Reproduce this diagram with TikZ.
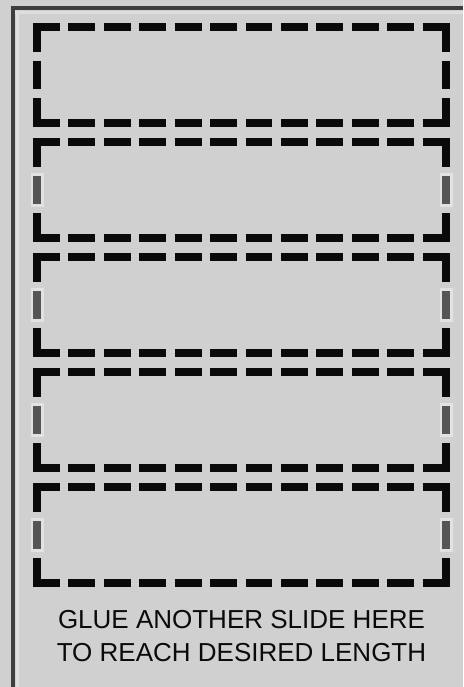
\documentclass[tikz,border=0pt]{standalone}
\usepackage{fontspec}
\setmainfont{Liberation Sans}
\usepackage{tikz}
\usetikzlibrary{positioning, calc}
\definecolor{slidebg}{HTML}{D0D0D0}
\definecolor{frameline}{HTML}{3E3E3E}
\definecolor{framelight}{HTML}{DEDEDE}
\definecolor{dashline}{HTML}{0A0A0A}
\definecolor{tabfill}{HTML}{555555}
\definecolor{tabhalo}{HTML}{E2E2E2}
\tikzset{
  slide/.style   = {rectangle, minimum width=409pt, minimum height=96pt,
                    inner sep=0pt, outer sep=0pt},
  hdash/.style   = {draw=dashline, line width=8.5pt, dash pattern=on 26.96pt off 8.5pt},
  vdash/.style   = {draw=dashline, line width=8.5pt, dash pattern=on 28.83pt off 9pt},
  tabmark/.style = {draw=tabfill, line width=8pt},
  tabglow/.style = {draw=tabhalo, line width=13pt},
  edge/.style    = {draw=frameline, line width=4pt},
  caption/.style = {font=\fontsize{26}{33}\selectfont, text=dashline, inner sep=0pt},
}
\begin{document}
\begin{tikzpicture}[x=1pt, y=-1pt]
  \useasboundingbox (0,0) rectangle (463,687);
  \fill[slidebg] (0,0) rectangle (463,687);
  % outer frame
  \draw[framelight, line width=3pt] (17,12) -- (17,687);
  \draw[framelight, line width=3pt] (15,12.5) -- (463,12.5);
  \draw[edge] (12.5,687) -- (12.5,8.5) -- (463,8.5);
  % the five slide frames
  \foreach \i in {0,...,4}{
    \node[slide] (s\i) at (241.5,{75+\i*115}) {};
    \draw[hdash] ([xshift=-4.25pt]s\i.north west) -- ([xshift=4.25pt]s\i.north east);
    \draw[hdash] ([xshift=-4.25pt]s\i.south west) -- ([xshift=4.25pt]s\i.south east);
    \draw[vdash] ([yshift=4.25pt]s\i.north west) -- ([yshift=-4.25pt]s\i.south west);
    \draw[vdash] ([yshift=4.25pt]s\i.north east) -- ([yshift=-4.25pt]s\i.south east);
    \ifnum\i>0
      \foreach \side in {west,east}{
        \draw[tabglow] ([yshift=17pt]s\i.\side) -- ([yshift=-17pt]s\i.\side);
        \draw[tabmark] ([yshift=14pt]s\i.\side) -- ([yshift=-14pt]s\i.\side);
      }
    \fi
  }
  \node[caption, anchor=base] (glue) at (241.5,628) {GLUE ANOTHER SLIDE HERE};
  \node[caption, anchor=base] (reach) at (241.5,661) {TO REACH DESIRED LENGTH};
\end{tikzpicture}
\end{document}
